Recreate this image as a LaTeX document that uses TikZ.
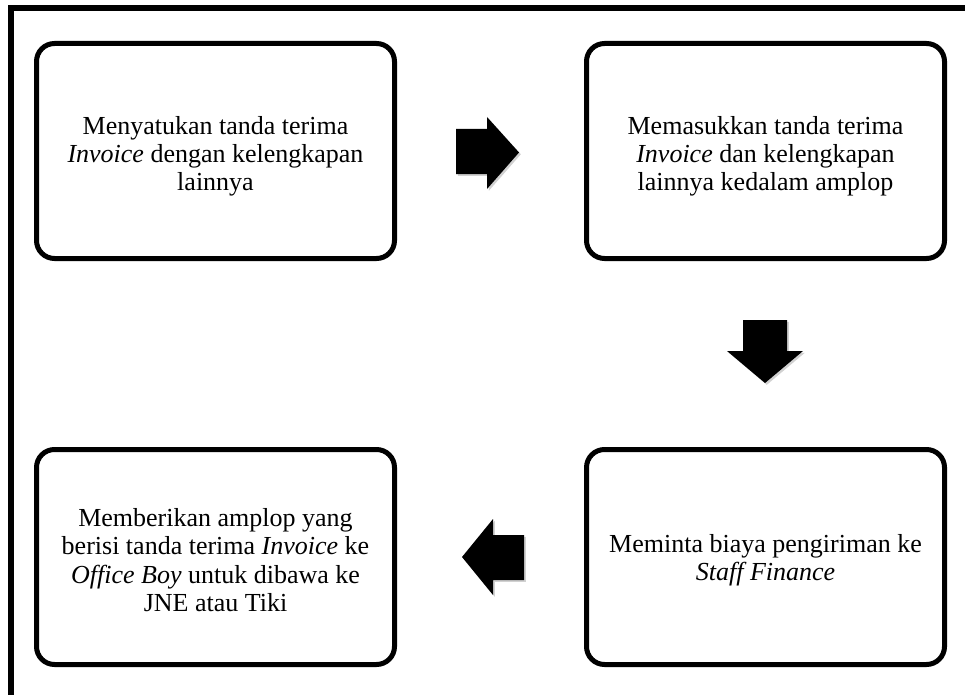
\documentclass[tikz,border=0pt]{standalone}
\usepackage{fontspec}
\setmainfont{Liberation Serif}
\begin{document}
\begin{tikzpicture}[x=1pt,y=-1pt,
  stepbox/.style={draw=black, line width=5pt, rounded corners=18pt,
    minimum width=358pt, minimum height=215pt, inner sep=0pt},
  steptext/.style={align=center, inner sep=0pt,
    font=\fontsize{26}{28.2}\selectfont},
  blockarrow/.style={fill=black,
    preaction={fill=black, opacity=0.18, transform canvas={shift={(1.8pt,-1.8pt)}}}},
  frameline/.style={line width=6pt, miter limit=10}]
\useasboundingbox (0,0) rectangle (965,695);
\clip (0,0) rectangle (965,695);

% page frame (top and left sides only)
\draw[frameline] (11,720) -- (11,8) -- (990,8);

% process step boxes
\node[stepbox] (s1) at (215.5,151) {};
\node[stepbox] (s2) at (765.5,151) {};
\node[stepbox] (s4) at (765.5,557) {};
\node[stepbox] (s3) at (215.5,557) {};

% step descriptions, set a little below each box centre
\node[steptext] (t1) at ([yshift=-5pt]s1.center) {Menyatukan tanda terima\\\textit{Invoice} dengan kelengkapan\\lainnya};
\node[steptext] (t2) at ([yshift=-5pt]s2.center) {Memasukkan tanda terima\\\textit{Invoice} dan kelengkapan\\lainnya kedalam amplop};
\node[steptext] (t4) at ([yshift=-3pt]s4.center) {Meminta biaya pengiriman ke\\\textit{Staff Finance}};
\node[steptext] (t3) at ([yshift=-3pt]s3.center) {Memberikan amplop yang\\berisi tanda terima \textit{Invoice} ke\\\textit{Office Boy} untuk dibawa ke\\JNE atau Tiki};

% block arrows between the steps
\fill[blockarrow] (456,129) -- (487,129) -- (487,117) -- (519,152.5) -- (487,189)
  -- (487,174) -- (456,174) -- cycle;
\fill[blockarrow] (743,320) -- (787,320) -- (787,351) -- (803,351) -- (765,383)
  -- (727,351) -- (743,351) -- cycle;
\fill[blockarrow] (524,535) -- (493,535) -- (493,519) -- (462,557) -- (493,595)
  -- (493,580) -- (524,580) -- cycle;
\end{tikzpicture}
\end{document}
